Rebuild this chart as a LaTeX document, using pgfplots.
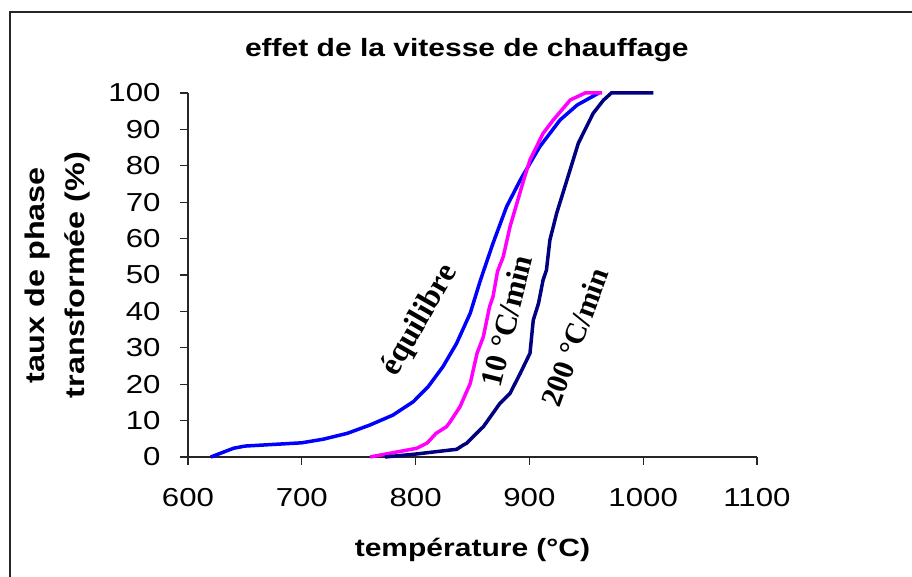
\documentclass[border=0pt]{standalone}
\usepackage{fontspec}
\setmainfont{Liberation Sans}[FakeStretch=1.2]
\newfontfamily\serifb{Liberation Serif}
\usepackage{pgfplots}
\pgfplotsset{compat=1.18}

\definecolor{eqblue}{RGB}{0,0,255}
\definecolor{tenmag}{RGB}{255,0,255}
\definecolor{navyc}{RGB}{0,0,128}

\begin{document}
\begin{tikzpicture}
\useasboundingbox (0,0) rectangle (912pt,577pt);
% outer chart frame
\draw[line width=1.4pt, black!85] (10pt,0pt) |- (912pt,565pt);

\begin{axis}[
    at={(188pt,120pt)}, anchor=south west,
    scale only axis,
    width=569pt, height=364pt,
    xmin=600, xmax=1100,
    ymin=0, ymax=100,
    axis lines=left,
    axis line style={-, line width=1.3pt, black!85},
    tick align=outside,
    major tick length=8pt,
    tick style={line width=1.1pt, black!85},
    xtick={600,700,...,1100},
    ytick={0,10,...,100},
    minor tick num=0,
    /pgf/number format/assume math mode=true,
    /pgf/number format/1000 sep={},
    ticklabel style={font=\fontsize{26}{26}\selectfont},
    yticklabel style={xshift=-16pt},
    xticklabel style={yshift=-20pt},
    title={\bfseries effet de la vitesse de chauffage},
    title style={font=\fontsize{25}{30}\selectfont, at={(axis description cs:0.49,1.10)}, anchor=center},
    xlabel={\bfseries température (°C)},
    xlabel style={font=\fontsize{25}{30}\selectfont, at={(axis description cs:0.5,-0.2555)}, anchor=center},
    ylabel={\bfseries taux de phase\\ \bfseries transformée (\%)},
    ylabel style={font=\fontsize{27}{40}\selectfont, align=center, at={(axis description cs:-0.2285,0.5)}, anchor=center, rotate=0},
    clip=false,
]
% equilibre
\addplot[eqblue, line width=3.5pt] coordinates {
 (620,0) (630,1.2) (640,2.4) (650,3) (700,3.9) (719,4.9) (740,6.5)
 (760,8.8) (780,11.5) (798,15.2) (811,19.3) (824,24.8) (836,31.2)
 (848,39.5) (857,48.6) (868,58.7) (880,68.8) (892,76.1) (909,85.2)
 (927,92.6) (942,96.7) (961,100)
};
% 10 C/min
\addplot[tenmag, line width=3.5pt] coordinates {
 (760,0) (801,2.4) (810,3.8) (818,6.5) (827,8.3) (830,9.5) (839,13.8)
 (848,20.2) (854,28.5) (859.5,33) (865,41.3) (868,44) (872,51) (877,55)
 (883,63.3) (889,69.7) (895,76.1) (900.5,81.6) (912,88.9) (921,92.6)
 (936,98.1) (949,100) (964,100)
};
% 200 C/min
\addplot[navyc, line width=3.5pt] coordinates {
 (773,0) (800,0.8) (830,1.9) (836,2.1) (842,3.3) (845,3.8) (857,7.6)
 (859.5,8.3) (874,14.7) (883,17.5) (892,23) (900.5,28.5) (903.4,37.6)
 (908,42.2) (912,48.6) (915,51.4) (918,59.6) (924,67) (933,76.1)
 (943,86.2) (956,94.4) (965,98) (972,100) (1009,100)
};

\node[rotate=60, font=\serifb\bfseries\fontsize{32}{32}\selectfont] at (axis cs:804,37.5) {équilibre};
\node[rotate=76, font=\serifb\bfseries\fontsize{31}{31}\selectfont] at (axis cs:880,37.4) {10 °C/min};
\node[rotate=70, font=\serifb\bfseries\fontsize{30}{30}\selectfont] at (axis cs:940,33) {200 °C/min};
\end{axis}
\end{tikzpicture}
\end{document}
